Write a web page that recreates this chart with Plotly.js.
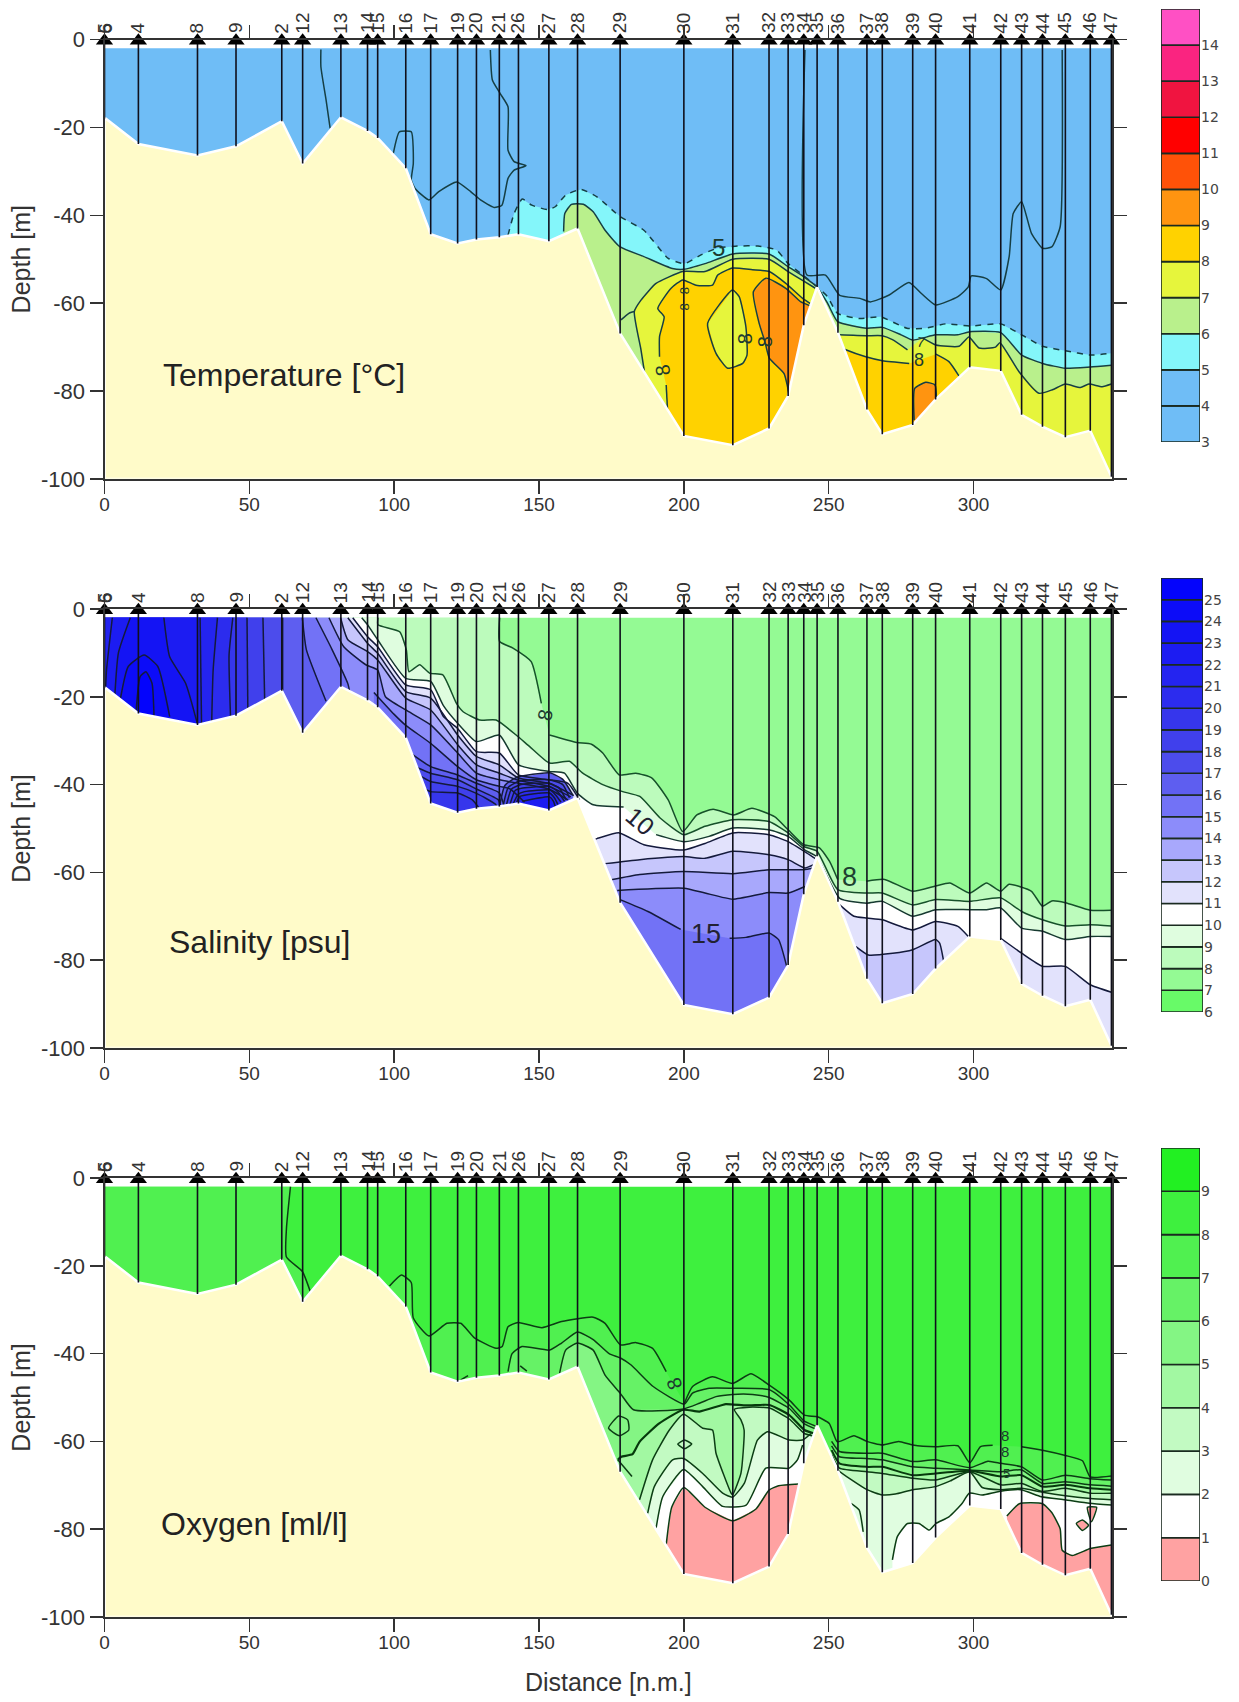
<!DOCTYPE html>
<html><head><meta charset="utf-8">
<script src="https://cdn.plot.ly/plotly-3.0.1.min.js"></script>
<style>html,body{margin:0;padding:0;background:#fff}</style>
</head><body><div id="chart" style="width:1239px;height:1702px"></div>
<script>
// ---------- stations ----------
const stationNames = ['5','6','4','8','9','2','12','13','14','15','16','17','19','20','21','26','27','28','29','30','31','32','33','34','35','36','37','38','39','40','41','42','43','44','45','46','47'];
const stationDist  = [0,0.4,11.7,32.1,45.4,61.2,68.4,81.6,90.8,94.3,104,112.6,121.9,128.4,136.3,142.9,153.4,163.3,178,200,216.9,229.4,236,241.4,246,253.2,263.2,268.5,279,286.9,298.7,309.4,316.6,323.8,331.7,340.3,347.6];
const stationDepth = [-18,-18,-23.8,-26.4,-24.3,-18.6,-28.2,-17.7,-20.8,-22.4,-29.3,-44.3,-46.4,-45.5,-45,-44.3,-45.9,-43,-66.9,-90.2,-92.3,-88.5,-81.1,-65,-56.3,-66.7,-84.2,-89.8,-87.7,-81.9,-74.6,-75.4,-85.4,-88.1,-90.5,-89,-99.5];

// ---------- legends ----------
const T_levels = [3,4,5,6,7,8,9,10,11,12,13,14];
const T_colors = ['#6FBDF6','#6FBDF6','#84F6FA','#B9F08C','#E6F53C','#FFD200','#FF9410','#FF5208','#FF0000','#F01440','#FA2480','#FF50C4'];
const S_levels = [6,7,8,9,10,11,12,13,14,15,16,17,18,19,20,21,22,23,24,25];
const S_colors = ['#68FA68','#94FA94','#BCFBBC','#DFFDDF','#FFFFFF','#E2E2FC','#C6C6FC','#A8A8FC','#8C8CFA','#7272F6','#5E5EF0','#4C4CEC','#4040EC','#3636EC','#2C2CEE','#2424F0','#1C1CF2','#1414F4','#0C0CF8','#0404FC'];
const O_levels = [0,1,2,3,4,5,6,7,8,9];
const O_colors = ['#FFA2A2','#FFFFFF','#E0FDE0','#C2FAC2','#A2F8A2','#84F584','#66F266','#50F050','#3EF03E','#22F022'];

// ---------- temperature isolines [distance, depth] ----------
const T_iso4a = [[74.7,-2.3],[74.7,-6.2],[76.5,-13.8],[77.9,-20.2]];
const T_iso4b = [[99.7,-25.9],[101.8,-21],[105.9,-21],[106.6,-28.2],[105.9,-32],[107.2,-33.9],[112,-36.5],[115.4,-34.6],[121.6,-32.4],[126.4,-34.6],[129.8,-36.5],[134.5,-38.2],[137.2,-37.7],[139.3,-31.6],[141.4,-29.7],[145.5,-28.7],[141.4,-27.8],[139.3,-25.2],[139.3,-15.3],[136.6,-12.3],[133.9,-9.2],[133.2,-2.4]];
const T_iso4c = [[241.8,-2.4],[242.5,-53.6],[248.9,-53.6],[253.8,-58.2],[260.8,-58.9],[264.4,-59.7],[270.7,-58.2],[277.7,-55.3],[282,-57.8],[286.9,-60.4],[294.6,-58.5],[298.2,-56.3],[299.2,-53.8],[304.5,-54.4],[309.4,-57],[312.3,-49.4],[313.7,-39.6],[316.6,-36.9],[320,-44.1],[323.8,-47.5],[327,-47.2],[329.9,-42.6],[330.6,-2.4]];
const T_iso5 = [[139.3,-44.5],[141.4,-39.6],[144.2,-36.3],[147.5,-37.7],[153,-38.7],[155.7,-38],[159.2,-35.4],[164.6,-34.1],[170,-35.8],[178,-40.3],[186.2,-43.4],[194.6,-49.8],[200.3,-51],[205.9,-49],[211.5,-47.5],[218.6,-47],[225.6,-47],[232,-47.9],[236,-51],[241.1,-53.6],[246,-56.3],[249.6,-58.5],[253,-62.3],[260.8,-63.5],[267.9,-63.1],[277,-65.7],[283.4,-65.7],[290.4,-64.7],[298.7,-65.2],[309.4,-64.7],[316.6,-67.2],[323.8,-69.8],[331.7,-70.8],[340.3,-71.8],[347.6,-71.4]];
const T_iso6 = [[158.5,-43.7],[158.9,-39.6],[161.2,-37.5],[165.3,-37.5],[168.7,-39.2],[172.8,-43.4],[178,-47.2],[186.2,-49.4],[196,-52.1],[200,-52.3],[207.3,-51],[216.9,-48.8],[229.4,-48.8],[236,-51.7],[241.4,-54],[246,-56.3],[249.6,-60],[253.1,-64.2],[263.2,-65.7],[268.5,-65.5],[275,-67.2],[279,-68.4],[286.9,-67.2],[294.6,-67.2],[298.7,-66.5],[309.4,-66.7],[316.6,-71.8],[323.8,-73.7],[331.7,-74.8],[340.3,-74.5],[347.6,-74.1]];
const T_iso7a = [[186.4,-75.6],[185.2,-70.6],[182.9,-61.9],[185.2,-59.3],[190.4,-55.5],[199.6,-52.8],[207.3,-52.8],[216.9,-50],[229.4,-50],[236,-52.8],[241.4,-55],[245.4,-56.6]];
const T_iso7b = [[253.6,-67.2],[262.8,-67.4],[268.5,-67.4],[272,-68.3],[277.2,-70.6],null,[282.4,-67.9],[287,-69.5],[295,-69.8],[298.4,-67.7],[301.9,-70.2],[307.6,-70],[309.1,-69],[315.7,-75.6],[322.6,-80.5],[327.2,-79.7],[331.7,-78.4],[336.9,-79.2],[339.8,-78.4],[344.4,-79],[347.6,-78.4]];
const T_iso7c = [[178.3,-63.8],[181,-62.3],[182.9,-61.9]];
const T_iso8a = [[194.4,-84.7],[193.9,-78.6],null,[191.6,-72.2],[191.6,-67.6],[193.2,-63.1],[191,-61.2],[195.6,-56.6],[199.6,-54.7],[204.2,-55.9],[209.9,-55.9],[211.7,-53.6],[216.8,-52],[223.7,-52.4],[229.5,-52.8],[235.2,-55.5],[241,-58.9],[244.4,-60.4]];
const T_iso8b = [[254,-70],[255.9,-70.6],[262.8,-72.2],[268.6,-73.1],[277.8,-73.7],null,[287,-71.6],[291.5,-73.3],[295,-76.6]];
const T_hole7 = [[216.8,-57],[208.2,-64.6],[211.1,-71.4],[215.1,-74.8],[220.3,-73.7],[221.8,-71.8],[221.4,-65.3],[219.1,-58.5],[216.8,-57]];
const T_iso9a = [[228.3,-54.3],[224,-57.4],[226,-64.6],[228,-68.8],[229.5,-72.5],[234.6,-76],[235.8,-79],[237,-83],[243.5,-66],[243.9,-60.8],[240.4,-59.7],[235.2,-56.6],[228.3,-54.3]];
const T_iso9b = [[279.5,-86.6],[279.7,-79.4],[283.5,-78],[286.7,-78.6],[287.2,-82]];

// ---------- salinity isolines ----------
const S_iso8 = [[136.4,-2],[136.4,-7.4],[141,-8.9],[147.3,-12],[150.8,-21.5],null,[153.6,-28.7],[163,-30.4],[168.1,-30.8],[172,-32.8],[177.7,-37.8],[183.4,-37.4],[189,-38.5],[194.6,-43.5],[199.6,-50.7],[204.5,-46.9],[210.1,-45.6],[217.2,-46.9],[223.5,-45.4],[231.3,-47.3],[236,-50.3],[241.4,-53.7],[246.8,-54.4],[250.3,-57.5],[253.1,-61.6],null,[263,-62],[269.3,-61.6],[279,-64.3],[286.9,-63.1],[291.8,-62.4],[298.7,-64.7],[304.5,-62.4],[309.4,-64.3],[312.3,-62.7],[320,-64.3],[323.8,-67.7],[327,-66.5],[331.7,-66.9],[340.3,-68.6],[347.6,-68.6]];
const S_iso9 = [[94.4,-2],[94.4,-3.6],[101.9,-5.2],[104.2,-9.3],[105.1,-14.3],[108.8,-12.7],[112.2,-14.6],[116.8,-15],[121.5,-21.5],[123.8,-23.4],[129.5,-25.3],[135.2,-25.3],[142.1,-28.7],[146.7,-31.3],[153.6,-35.1],[160.5,-34.7],[165.1,-37.4],[172,-40],[178.9,-41.6],[184.8,-42.7],[191.8,-47.6],[200,-51.4],[207.3,-49.5],[216.9,-48],[229.4,-48.4],[236,-51],[241.4,-54.1],[246,-55.2],[253.1,-63.9],[263.2,-64.7],[268.5,-64.7],[279,-67.4],[286.9,-66.2],[298.7,-66.6],[309.4,-65.8],[316.6,-68.9],[323.8,-70.8],[331.7,-72.2],[340.3,-71.9],[347.6,-72.2]];
const S_iso10 = [[88.8,-2],[90.8,-3.6],[94.3,-7],[104,-15.8],[112.6,-16.5],[117,-22],[121.9,-26],[128.4,-30.2],[136.3,-28.7],[142.9,-35.5],[153.4,-37],[158.8,-37.4],[163.3,-42],[168.7,-44.6],[179.2,-45.1],null,[190.4,-51.4],[200,-53],[208.7,-51.8],[216.9,-49.9],[229.4,-50.3],[236,-51.8],[241.8,-54.9],[245.8,-56.4],[253.8,-65.9],[263.2,-67],[268.5,-66.6],[279,-70],[286.9,-68.5],[298.7,-68.5],[304.5,-68.5],[309.4,-68.1],[316.6,-72.7],[323.8,-73.4],[331.7,-75.3],[340.3,-74.6],[347.6,-74.6]];
const S_iso11a = [[85.7,-2],[90.8,-6.3],[94.3,-8.6],[104,-17.3],[112.6,-18.4],[117,-24.5],[121.9,-27.2],[128.4,-32.5],[136.3,-32.8],[142.9,-37.8],[153.4,-38.9],[160,-39.7],[164,-43.5]];
const S_iso11b = [[167,-53],[170,-52.3],[177.7,-51],[186.2,-53.7],[200,-54.9],[207.3,-53.4],[216.9,-51],[229.4,-51.4],[236,-53],[242.5,-55.6],[246,-57.1]];
const S_iso11c = [[253.8,-67.4],[258.7,-70],[263.2,-70.4],[268.5,-70.8],[279,-73.1],[286.9,-71.2],[294.6,-72.3],[298.2,-74.6]];
const S_iso11d = [[309.4,-75],[316.6,-78.4],[323.8,-81.4],[331.7,-81.4],[340.3,-85.6],[347.6,-87.3]];
const S_iso12a = [[84,-2],[90.8,-7.8],[94.3,-10.1],[104,-18.8],[112.6,-20.3],[121.9,-28.7],[128.4,-33.6],[136.3,-35.5],[142.9,-38.5],[153.4,-39.7],[162,-42.5]];
const S_iso12b = [[172.8,-58],[184.8,-57.1],[200,-56.4],[207.3,-56.8],[216.9,-55.2],[229.4,-56],[236,-57.1],[241.8,-59],[244.6,-58.3]];
const S_iso12c = [[259.4,-76.9],[263.7,-78.8],[272.1,-78.4],[279,-77.6],[286.9,-75.3],[288.3,-76.1],[289.7,-80.3]];
const S_iso13a = [[81.5,-2],[84,-7],[90.8,-9.7],[94.3,-11.6],[104,-20.3],[112.6,-23],[121.9,-30.9],[128.4,-35.5],[136.3,-37.4],[142.9,-39],[153.4,-40.4],[161,-42.8]];
const S_iso13b = [[174.9,-61.7],[184.8,-60.5],[200,-59.8],[216.9,-60.3],[229.4,-59.4],[241.4,-59.4],[244.6,-59]];
const S_iso14a = [[77.5,-2],[82.6,-8.6],[90.2,-12.7],[94.3,-13.9],[97,-20],[104,-23],[112.6,-26.4],[121.9,-32.8],[128.4,-37.4],[136.3,-38.9],[142.9,-39.7],[153.4,-41],[160,-43.5]];
const S_iso14b = [[177,-64.1],[200,-63.6],[207.3,-64.7],[216.9,-66.1],[229.4,-64.6],[236,-64.7],[241.8,-63.2]];
const S_iso15a = [[73,-2],[78.6,-9.3],[84,-17],[84.7,-19]];
const S_iso15b = [[93,-19],[100,-24],[104,-26.5],[112.6,-30.6],[121.9,-35.9],[128.4,-38.9],[136.3,-40.4],[140,-41],[145,-44]];
const S_iso15c = [[178,-66.2],[187.6,-68.9],[198.9,-73],null,[215.8,-75],[221.4,-74.8],[229.4,-73.8],[232.7,-75.3],[235.5,-81.4]];
const S_iso16a = [[68.3,-2],[69.7,-9.3],[76.5,-21]];
const S_iso16b = [[106,-33],[112.6,-35.9],[121.9,-37.8],[128.4,-39.7],[136.3,-41.9],[138,-45]];
const S_iso17a = [[61.5,-2],[61.5,-18.5]];
const S_iso17b = [[107.5,-36],[112.6,-37.4],[121.9,-38.9],[128.4,-41],[136,-43.5],[137,-46]];
const S_iso18a = [[54.7,-2],[55.3,-21]];
const S_iso18b = [[109,-38],[112.6,-39.3],[121.9,-40.4],[128.4,-42],[135,-44.5],[136,-46]];
const S_iso19a = [[49.2,-2],[49.5,-24]];
const S_iso19b = [[110.5,-41],[112.6,-41.6],[121.9,-41.9],[127,-43.5],[130,-46]];
const S_iso20 = [[44.3,-2],[43,-10.5],[43.5,-24.5]];
const S_iso21 = [[39,-2],[37.5,-14],[37,-26]];
const S_iso22 = [[0.4,-17.7],[0.7,-13.9],[2.7,-2],null,[33,-2],[33.5,-26]];
const S_iso23 = [[3.4,-21.5],[4.8,-10],[8.9,-2],null,[20.5,-2],[22.5,-10.9],[28,-16.9],[32,-26]];
const S_iso24 = [[4.8,-23],[8.2,-13.1],[13.7,-10.5],[18.4,-13.1],[22.5,-24.5]];
const S_iso25 = [[10.9,-23.4],[12.3,-15.4],[14.3,-14.3],[16.4,-16.9],[17.1,-24.5]];
const S_dome16 = [[136.5,-44.5],[138.2,-40.2],[142.1,-38.4],[153.6,-37.3],[158.2,-38.8],[161.7,-42.4]];
const S_dome17 = [[137.7,-44.5],[139.4,-40.6],[143.2,-39.2],[153.6,-38.9],[158.2,-40],[160.5,-43]];
const S_dome18 = [[138.8,-44.5],[140.5,-41],[143.8,-40],[153.6,-39.7],[157,-40.8],[159.4,-43.5]];
const S_dome19 = [[140,-44.5],[141.7,-41.4],[144.4,-40.8],[153.6,-40.4],[156.4,-41.6],[158.8,-43.8]];
const S_dome20 = [[141,-44.5],[142.8,-42.2],[145,-41.6],[153.6,-41.2],[155.8,-42.4],[157.6,-44]];
const S_dome21 = [[142.3,-44],[143.4,-42.7],[153.6,-41.9],[155.3,-43],[156.5,-44.5]];
const S_dome22 = [[144.2,-43.8],[153.6,-42.8],[155,-43.8],[155.6,-45]];

// ---------- oxygen isolines ----------
const O_iso8a = [[64.2,-2],[62.8,-11.6],[62.8,-18],[68.3,-21.3],[71,-25.8]];
const O_iso8b = [[98.4,-24.6],[102.5,-22.1],[105.9,-23.8],[106.6,-31.9],[112,-36],[118.2,-33.1],[123,-33.1],[127.7,-36.4],[135.2,-38.8],[137.3,-38.4],[139.3,-33.9],[142.8,-32.9],[151,-34.1],[157.8,-32.7],[168.7,-31.7],[172.8,-33.1],[178.1,-38],[183.5,-37.5],[189.2,-38.8],[193.9,-44.1],null,[200.2,-51.3],[203,-47.5],[209.9,-45.3],[216.8,-46.8],[223.2,-44.6],[229.5,-47.2],[236.4,-50.6],[241.6,-54],[246.1,-54.4],[250.2,-55.9],[253,-60.1],[258.7,-58.7],[263.2,-60],[268.5,-60.8],[274.2,-60],[279,-60.8],[286.9,-61.2],[294.6,-61],[298.7,-64.9],[302.4,-61.2],[306.6,-60.9],null,[316.6,-61.2],[323.8,-62],[331.7,-63.2],[337.6,-64.4],[340.3,-68.1],[347.6,-67.9]];
const O_iso7a = [[139.3,-44.1],[140.7,-40],[144.1,-38.4],[153.7,-39.2],[157.8,-37.6],[163.3,-35.1],[168.7,-36.8],[174.2,-40],[178.1,-41],[181.8,-42.6],[189.4,-47.5],[200.2,-51.5],[203,-49],[208.8,-47.9],[216.8,-47.9],[229.5,-48.2],[236.4,-51.7],[241.6,-55.4],[245.8,-56.6]];
const O_iso7b = [[251,-60],[253.7,-62.3],[263.2,-62.7],[268.5,-62.7],[279,-64.6],[286.9,-64.2],[298.7,-66],[305,-64.5],[309.4,-65],[316.6,-65.8],[323.8,-68.8],[331.7,-67.7],[340.3,-68.5],[347.6,-68.8]];
const O_iso6a = [[157.1,-44.5],[159.2,-39.2],[163.3,-37.6],[168.7,-39.2],[172.8,-44.9],[178,-49],[182.6,-52.8],[199.9,-52.6],[205.4,-51.3],[211.1,-49.8],[216.8,-49.3],[223.7,-49.3],[229.5,-50],[236.4,-52.5],[241.6,-56],[245.7,-57.2]];
const O_iso6b = [[251,-61],[253.7,-63.5],[263.2,-63.9],[268.5,-64.2],[279,-65.8],[286.9,-66.1],[298.7,-66.5],[309.4,-66.9],[316.6,-66.5],[323.8,-69.6],[331.7,-69.2],[340.3,-69.9],[347.6,-70.2]];
const O_iso5a = [[177.2,-64.2],[178.4,-63.5],[182.3,-62.9],[184.7,-60.1],[191.5,-55.9],[199.8,-52.8],[205.4,-53.2],[214.5,-51.5],[216.8,-51.6],[222.6,-51.8],[229.5,-51.7],[236.4,-54],[241.6,-57.4],[245,-58.2]];
const O_iso5b = [[251,-62],[253.7,-65],[263.2,-65.8],[268.5,-65.8],[279,-67.7],[286.9,-67.3],[298.7,-66.7],[309.4,-68],[316.6,-67.7],[323.8,-70.3],[331.7,-69.9],[340.3,-70.7],[347.6,-71]];
const O_iso4a = [[184.7,-73.3],[189.2,-64.2],[195,-57.4],[199.9,-53.8],[206.5,-57],[209.9,-57.4],[211.1,-62.7],[216.3,-71.8],[216.8,-72.2],[219.7,-67.3],[220.8,-57.4],[219.7,-55.1],[217.4,-52.7],[222.6,-52.2],[229.5,-52.4],[236.4,-54.9],[241.6,-58.2],[245,-58.8]];
const O_iso4b = [[251,-63],[253.7,-66.1],[263.2,-66.9],[268.5,-67.3],[279,-68.4],[286.9,-68.8],[298.7,-66.9],[309.4,-69.9],[316.6,-69.6],[323.8,-71.4],[331.7,-70.7],[340.3,-71.8],[347.6,-71.8]];
const O_iso3a = [[187.5,-76.4],[189.8,-70.3],[196.1,-64.2],[199.9,-63.9],[206.5,-67.3],[213.4,-71.8],[216.8,-72.7],[220.9,-69.5],[225.4,-59.7],[228.9,-57.8],[236.4,-59.7],[241,-59.7],[243.9,-58.2]];
const O_iso3b = [[251,-64],[253.2,-66.5],[263.2,-71],[268.5,-72.2],[273,-72],[279,-71],[286.9,-70.3],[292,-69],[298.7,-66.9],[303,-70.5],[309.4,-71],[316.6,-70.7],[323.8,-71.6],[331.7,-72.4],[340.3,-73],[347.6,-73.3]];
const O_iso2a = [[190.4,-79.8],[192.7,-72.6],[199.9,-66.4],[206.5,-70.3],[213.4,-74.8],[221.5,-74.5],[228.3,-66.1],[236.4,-66.1],[239.2,-64.2],[241,-60.8]];
const O_iso2b = [[272,-87],[273.7,-81.7],[277.2,-78.7],[281.2,-78.7],[284.7,-80.2],[287,-78.7],[291.5,-77.2],[296.1,-74.1],[298.5,-71.8],[303,-72.2],[308.8,-71.4],[316.3,-71],[323.4,-72.6],[331.6,-73.3],[340,-74.1],[347.6,-74.5]];
const O_iso2c = [[257.7,-74.1],[260.5,-75.6],[261.9,-80.6]];
const O_iso1a = [[193.9,-83.6],[195.8,-75],[200,-70.5],[207.3,-75],[216.9,-78.1],[224.9,-75.4],[229.4,-71.1],[232.7,-70.1],[239.7,-69.7]];
const O_iso1b = [[311.5,-77],[315.8,-74.2],[323.8,-74.2],[327,-76.2],[329.9,-79.9],[330.6,-84.8],[334,-86],[340.3,-84.4],[347.6,-83.6]];
const O_blob1 = [[335.5,-78.7],[337.6,-77.9],[339.7,-79.1],[337.6,-80.3],[335.5,-78.7]];
const O_blob2 = [[339.3,-75],[342.5,-75],[340.7,-78.3],[339.3,-75]];
const O_ring1 = [[177.5,-54.2],[180.6,-55.1],[181,-57.4],[177.8,-58.7],[174,-57],[177.5,-54.2]];
const O_ring2 = [[197.9,-60.6],[200.2,-59.7],[202.7,-60.6],[200.2,-61.7],[197.9,-60.6]];
const O_piece1 = [[177.2,-64.2],[182.1,-68]];
const O_piece2 = [[143.5,-42.8],[145.8,-44]];
const O_piece3 = [[123,-46],[125.5,-45]];

// ---------- in-plot texts ----------
const panelTitles = ['Temperature [°C]','Salinity [psu]','Oxygen [ml/l]'];
const panelTitleX = [19.5,21.6,18.8];
const panelTitleY = [-76.4,-75.9,-78.9];
const xTickVals = [0,50,100,150,200,250,300];
const yTickVals = [0,-20,-40,-60,-80,-100];

// ---------- builders ----------
const W=1239,H=1702,X0=104.5,X1=1112;
const panelPx=[[39.5,479],[609,1048],[1178,1617]];
const legPx=[[9,442,1161,1200],[578,1012,1161,1203],[1148,1581,1161,1200]];
const FONT='"Liberation Sans",Arial,sans-serif', TXT='#333';
const traces=[],annotations=[];

function band(ax,ay,pts,color,opt){
  opt=opt||{};
  const r=pts.filter(Boolean), first=r[0], last=r[r.length-1];
  let path=r.slice();
  if(opt.closed){}
  else if(opt.left) path=path.concat([[last[0],-100],[0,-100],[0,-2]]);
  else path=path.concat([[last[0],-100],[first[0],-100]]);
  return {type:'scatter',mode:'lines',xaxis:ax,yaxis:ay,x:path.map(p=>p[0]),y:path.map(p=>p[1]),fill:'toself',fillcolor:color,line:{width:0,color:color},hoverinfo:'skip',showlegend:false};
}
function iso(ax,ay,pts,color,opt){
  opt=opt||{};
  return {type:'scatter',mode:'lines',xaxis:ax,yaxis:ay,connectgaps:false,x:pts.map(p=>p?p[0]:null),y:pts.map(p=>p?p[1]:null),
    line:{color:color,width:opt.w||1.5,dash:opt.dash||'solid',shape:'spline',smoothing:0.5},hoverinfo:'skip',showlegend:false};
}
function label(ax,ay,x,y,text,size,angle,color){
  annotations.push({xref:ax,yref:ay,x:x,y:y,text:text,showarrow:false,textangle:angle||0,font:{family:FONT,size:size,color:color||'#1d3a30'},xanchor:'center',yanchor:'middle',borderpad:0});
}
function panel(i,baseColor,fills,lines,lineColor){
  const n=i===0?'':String(i+1), ax='x'+n, ay='y'+n;
  // water
  const wx=[0,347.6,347.6,0], wy=[-2,-2,-100,-100];
  traces.push({type:'scatter',mode:'lines',xaxis:ax,yaxis:ay,x:wx,y:wy,fill:'toself',fillcolor:baseColor,line:{width:0},hoverinfo:'skip',showlegend:false});
  fills.forEach(f=>traces.push(band(ax,ay,f[0],f[1],f[2])));
  lines.forEach(l=>traces.push(iso(ax,ay,l[0],l[1]||lineColor,l[2])));
  // sea bed
  const bx=[0].concat(stationDist,[347.6,0]);
  const by=[-100].concat(stationDepth,[-100,-100]);
  traces.push({type:'scatter',mode:'lines',xaxis:ax,yaxis:ay,x:bx,y:by,fill:'toself',fillcolor:'#FFFBC9',line:{color:'#FFFFFF',width:2.5},hoverinfo:'skip',showlegend:false});
  traces.push({type:'scatter',mode:'lines',xaxis:ax,yaxis:ay,x:[0,347.7],y:[-100,-100],line:{color:'#FFFBC9',width:1},hoverinfo:'skip',showlegend:false});
  // station casts
  const sx=[],sy=[];
  stationDist.forEach((d,k)=>{ if(k===1) return; sx.push(d,d,null); sy.push(-1,stationDepth[k],null); });
  traces.push({type:'scatter',mode:'lines',xaxis:ax,yaxis:ay,x:sx,y:sy,line:{color:'#10101c',width:1.6},hoverinfo:'skip',showlegend:false,cliponaxis:false});
  traces.push({type:'scatter',mode:'markers',xaxis:ax,yaxis:ay,x:stationDist.filter((d,k)=>k!==1),y:stationDist.filter((d,k)=>k!==1).map(()=>-0.3),cliponaxis:false,
    marker:{symbol:'triangle-up',size:15,color:'#000',line:{width:0}},hoverinfo:'skip',showlegend:false});
  const dom=1-panelPx[i][0]/H;
  stationNames.forEach((s,k)=>annotations.push({xref:ax,yref:'paper',x:stationDist[k],y:dom,yshift:5,text:s,showarrow:false,textangle:-90,xanchor:'center',yanchor:'bottom',borderpad:0,font:{family:FONT,size:19,color:'#333'}}));
  annotations.push({xref:ax,yref:ay,x:panelTitleX[i],y:panelTitleY[i],text:panelTitles[i],showarrow:false,xanchor:'left',yanchor:'middle',font:{family:FONT,size:32,color:'#222'}});
}
function legend(i,levels,colors){
  const n=String(i+4);
  traces.push({type:'bar',xaxis:'x'+n,yaxis:'y'+n,x:levels.map(()=>0),y:levels.map(()=>1),base:levels,width:1,
    marker:{color:colors,line:{color:'#1a2a20',width:1.6}},hoverinfo:'skip',showlegend:false});
}

// temperature
const LT='#163f44';
panel(0,T_colors[0],[
  [T_iso5,T_colors[2]],[T_iso6,T_colors[3]],[T_iso7a,T_colors[4]],[T_iso7b,T_colors[4]],
  [T_iso8a,T_colors[5]],[T_iso8b,T_colors[5]],[T_hole7,T_colors[4],{closed:true}],
  [T_iso9a,T_colors[6],{closed:true}],[T_iso9b,T_colors[6]]
],[
  [T_iso4a],[T_iso4b],[T_iso4c],[T_iso5,null,{dash:'6px,6px'}],[T_iso6],[T_iso7a],[T_iso7b],[T_iso7c],[T_iso8a],[T_iso8b],[T_hole7],[T_iso9a],[T_iso9b]
],LT);
label('x','y',211.8,-47.3,'5',24,0);
label('x','y',282,-68.8,'7',14,10);
label('x','y',192.7,-75.2,'8',20,-100);
label('x','y',221.4,-68,'8',20,-90);
label('x','y',227.8,-68.8,'8',20,-90);
label('x','y',200.2,-57.2,'8',13,-90);
label('x','y',200.2,-60.9,'8',13,-90);
label('x','y',281.2,-72.9,'8',18,0);

// salinity
const LS='#141a3c', sc=l=>S_colors[l-6];
panel(1,sc(7),[
  [S_iso8,sc(8),{left:true}],[S_iso9,sc(9),{left:true}],[S_iso10,sc(10),{left:true}],[S_iso11a,sc(11),{left:true}],
  [S_iso11b,sc(11)],[S_iso11c,sc(11)],[S_iso11d,sc(11)],
  [S_iso12a,sc(12),{left:true}],[S_iso12b,sc(12)],[S_iso12c,sc(12)],
  [S_iso13a,sc(13),{left:true}],[S_iso13b,sc(13)],[S_iso14a,sc(14),{left:true}],[S_iso14b,sc(14)],
  [S_iso15a,sc(15),{left:true}],[S_iso15b,sc(15)],[S_iso15c,sc(15)],
  [S_iso16a,sc(16),{left:true}],[S_iso16b,sc(16)],[S_iso17a,sc(17),{left:true}],[S_iso17b,sc(17)],
  [S_iso18a,sc(18),{left:true}],[S_iso18b,sc(18)],[S_iso19a,sc(19),{left:true}],[S_iso19b,sc(19)],
  [S_iso20,sc(20),{left:true}],[S_iso21,sc(21),{left:true}],[S_iso22,sc(22)],[S_iso23,sc(23)],[S_iso24,sc(24)],[S_iso25,sc(25)],
  [S_dome16,sc(16)],[S_dome17,sc(17)],[S_dome18,sc(18)],[S_dome19,sc(19)],[S_dome20,sc(20)],[S_dome21,sc(21)],[S_dome22,sc(22)]
],[
  [S_iso8,'#16502a'],[S_iso9,'#16502a'],[S_iso10,'#163a30'],[S_iso11a],[S_iso11b],[S_iso11c],[S_iso11d],[S_iso12a],[S_iso12b],[S_iso12c],
  [S_iso13a],[S_iso13b],[S_iso14a],[S_iso14b],[S_iso15a],[S_iso15b],[S_iso15c],[S_iso16a],[S_iso16b],[S_iso17a],[S_iso17b],
  [S_iso18a],[S_iso18b],[S_iso19a],[S_iso19b],[S_iso20],[S_iso21],[S_iso22],[S_iso23],[S_iso24],[S_iso25],
  [S_dome16],[S_dome17],[S_dome18],[S_dome19],[S_dome20],[S_dome21],[S_dome22]
],LS);
label('x2','y2',152,-24.1,'8',20,-80);
label('x2','y2',184.8,-48.4,'10',25,40,'#223');
label('x2','y2',207.6,-74,'15',27,0,'#223');
label('x2','y2',257.3,-61,'8',27,0,'#1d4030');

// oxygen
const LO='#0c3d14', oc=l=>O_colors[l];
panel(2,oc(8),[
  [O_iso8a,oc(7),{left:true}],[O_iso8b,oc(7)],[O_iso7a,oc(6)],[O_iso7b,oc(6)],[O_iso6a,oc(5)],[O_iso6b,oc(5)],
  [O_iso5a,oc(4)],[O_iso5b,oc(4)],[O_iso4a,oc(3)],[O_iso4b,oc(3)],[O_iso3a,oc(2)],[O_iso3b,oc(2)],
  [O_iso2a,oc(1)],[O_iso2b,oc(1)],[O_iso1a,oc(0)],[O_iso1b,oc(0)],[O_blob1,oc(0),{closed:true}],[O_blob2,oc(0),{closed:true}]
],[
  [O_iso8a],[O_iso8b],[O_iso7a],[O_iso7b],[O_iso6a],[O_iso6b],[O_iso5a,'#063a0c',{w:2.2}],[O_iso5b,'#063a0c',{w:2}],[O_iso4a],[O_iso4b],
  [O_iso3a],[O_iso3b],[O_iso2a],[O_iso2b],[O_iso2c],[O_iso1a],[O_iso1b],[O_blob1],[O_blob2],[O_ring1],[O_ring2],[O_piece1],[O_piece2],[O_piece3]
],LO);
label('x3','y3',196.7,-46.9,'8',20,-110);
label('x3','y3',310.7,-58.6,'8',15,0);
label('x3','y3',310.7,-62.4,'8',15,0);
label('x3','y3',311.4,-67.4,'5',13,0);

legend(0,T_levels,T_colors);
legend(1,S_levels,S_colors);
legend(2,O_levels,O_colors);

// ---------- layout ----------
const layout={width:W,height:H,margin:{l:0,r:0,t:0,b:0,pad:0},paper_bgcolor:'#fff',plot_bgcolor:'#fff',showlegend:false,barmode:'overlay',annotations:annotations};
panelPx.forEach((p,i)=>{
  const n=i===0?'':String(i+1);
  layout['xaxis'+n]={domain:[X0/W,X1/W],range:[0,347.8],anchor:'y'+n,tickvals:xTickVals,ticktext:xTickVals.map(String),ticks:'outside',ticklen:13,tickwidth:1.6,tickcolor:'#333',ticklabelstandoff:-6,
    showgrid:false,zeroline:false,showline:true,linecolor:'#333',linewidth:2,mirror:'allticks',tickfont:{family:FONT,size:19,color:TXT},layer:'above traces',
    title:i===2?{text:'Distance [n.m.]',font:{family:FONT,size:25,color:TXT},standoff:22}:undefined,automargin:false};
  layout['yaxis'+n]={domain:[1-p[1]/H,1-p[0]/H],range:[-100,0],anchor:'x'+n,tickvals:yTickVals,ticktext:yTickVals.map(String),ticks:'outside',ticklen:13,tickwidth:1.6,tickcolor:'#333',
    showgrid:false,zeroline:false,showline:true,linecolor:'#333',linewidth:2,mirror:'allticks',tickfont:{family:FONT,size:22,color:TXT},layer:'above traces',
    title:{text:'Depth [m]',font:{family:FONT,size:25,color:TXT},standoff:3},automargin:false};
});
[T_levels,S_levels,O_levels].forEach((lv,i)=>{
  const n=String(i+4), q=legPx[i];
  layout['xaxis'+n]={domain:[q[2]/W,q[3]/W],range:[-0.5,0.5],anchor:'y'+n,visible:false,fixedrange:true};
  layout['yaxis'+n]={domain:[1-q[1]/H,1-q[0]/H],range:[lv[0],lv[lv.length-1]+1],anchor:'x'+n,side:'right',tickvals:lv,ticktext:lv.map(String),ticks:'',showgrid:false,zeroline:false,showline:false,
    tickfont:{family:'"DejaVu Sans",sans-serif',size:14,color:'#444'},automargin:false};
});
Plotly.newPlot('chart',traces,layout,{staticPlot:true,displayModeBar:false});
</script></body></html>
